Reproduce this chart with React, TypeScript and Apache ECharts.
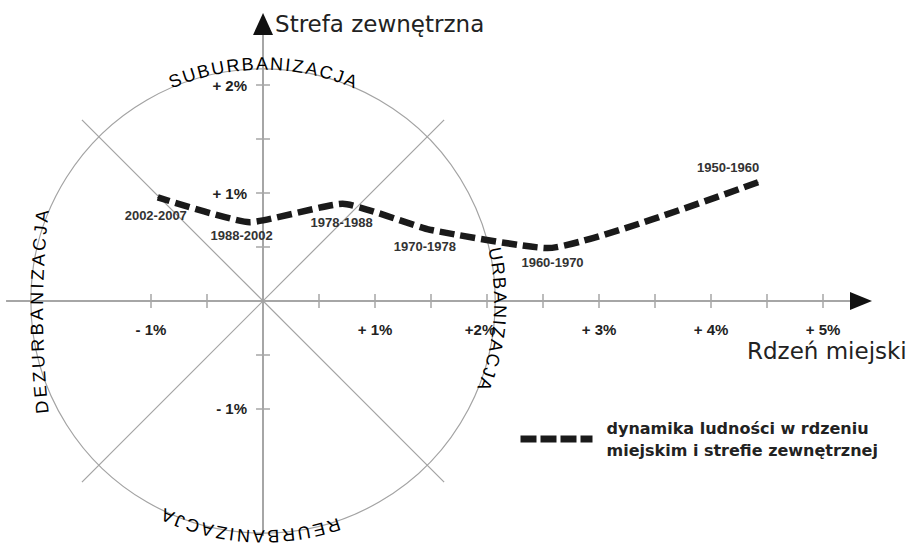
import React, { useEffect, useRef } from "react";
import * as echarts from "echarts";

// ---- data ----
const PERIODS = ["1950-1960", "1960-1970", "1970-1978", "1978-1988", "1988-2002", "2002-2007"];
const CORE_CHANGE = [4.42, 2.54, 1.49, 0.71, -0.12, -0.94]; // x: Rdzeń miejski (%)
const OUTER_CHANGE = [1.1, 0.49, 0.66, 0.9, 0.73, 0.96]; // y: Strefa zewnętrzna (%)

const X_TICK_VALUES = [-1, 1, 2, 3, 4, 5];
const X_TICK_LABELS = ["- 1%", "+ 1%", "+2%", "+ 3%", "+ 4%", "+ 5%"];
const X_TICK_MARKS = [-1, -0.5, 0.5, 1, 1.5, 2, 2.5, 3, 3.5, 4, 4.5, 5];
const Y_TICK_VALUES = [-1, 1, 2];
const Y_TICK_LABELS = ["- 1%", "+ 1%", "+ 2%"];
const Y_TICK_MARKS = [-1, -0.5, 0.5, 1, 1.5, 2];

const X_AXIS_NAME = "Rdzeń miejski";
const Y_AXIS_NAME = "Strefa zewnętrzna";
const SERIES_NAME = "dynamika ludności w rdzeniu miejskim i strefie zewnętrznej";
const ZONE_NAMES = ["SUBURBANIZACJA", "URBANIZACJA", "REURBANIZACJA", "DEZURBANIZACJA"];

// ---- layout / style ----
const W = 910;
const H = 549;
const GRID = { left: 7, right: 49, top: 24, bottom: 14 };
const X_MIN = -2.286;
const X_MAX = 5.339;
const Y_MIN = -2.167;
const Y_MAX = 2.565;
const CIRCLE_R = 2.15; // in y-axis units
const SHIFTED_X_LABEL = 2; // this tick label sits a little left of its tick
const LABEL_POS: any[] = [
  { position: "top", offset: [-30, -3] },
  { position: "bottom", offset: [5, 2] },
  { position: "bottom", offset: [-5, 5] },
  { position: "bottom", offset: [-1, 7] },
  { position: "bottom", offset: [-8, 1] },
  { position: "bottom", offset: [-2, 6] },
];
const AXIS_COLOR = "#a6a6a6";
const INK = "#1a1a1a";
const SANS = "Liberation Sans";
const WIDE = "DejaVu Sans";

function measure(ch: string, font: string) {
  const c = document.createElement("canvas").getContext("2d")!;
  c.font = font;
  return c.measureText(ch).width;
}

function arcLetters(
  text: string,
  cx: number,
  cy: number,
  r: number,
  centerDeg: number,
  fontSize: number,
  spacing: number
) {
  const font = `${fontSize}px "${SANS}"`;
  const chars = [...text];
  const widths = chars.map((ch) => measure(ch, font));
  const total = widths.reduce((a, b) => a + b, 0) + spacing * (chars.length - 1);
  let s = -total / 2;
  const out: any[] = [];
  chars.forEach((ch, i) => {
    const mid = s + widths[i] / 2;
    const th = (centerDeg * Math.PI) / 180 + mid / r;
    out.push({
      type: "text",
      x: cx + r * Math.cos(th),
      y: cy + r * Math.sin(th),
      rotation: -(th + Math.PI / 2),
      silent: true,
      z: 5,
      style: {
        text: ch,
        fontSize,
        fontFamily: SANS,
        fill: "#000",
        align: "center",
        verticalAlign: "middle",
        lineHeight: fontSize,
      },
    });
    s += widths[i] + spacing;
  });
  return out;
}

// pixel distances from the grid edges to the zero lines (axes sit on zero via offset)
const GW = W - GRID.left - GRID.right;
const GH = H - GRID.top - GRID.bottom;
const ZERO_FROM_LEFT = ((0 - X_MIN) / (X_MAX - X_MIN)) * GW;
const ZERO_FROM_TOP = ((Y_MAX - 0) / (Y_MAX - Y_MIN)) * GH;

const axisCommon = (min: number, max: number, marks: number[], offset: number) => ({
  type: "value",
  min,
  max,
  offset,
  axisLine: { onZero: false, lineStyle: { color: AXIS_COLOR, width: 2 } },
  axisTick: { show: true, customValues: marks, length: 7, lineStyle: { color: AXIS_COLOR, width: 1.5 } },
  splitLine: { show: false },
});

export default function App() {
  const ref = useRef<HTMLDivElement>(null);
  useEffect(() => {
    if (!ref.current) return;
    const chart = echarts.init(ref.current, undefined, { renderer: "svg" });
    const labelStyle = {
      fontSize: 15,
      fontWeight: "bold",
      fontFamily: SANS,
      color: "#222",
      lineHeight: 15,
    };
    const xLabel = (v: number) => {
      const i = X_TICK_VALUES.indexOf(v);
      return i >= 0 ? X_TICK_LABELS[i] : "";
    };
    chart.setOption({
      animation: false,
      grid: { ...GRID, containLabel: false, outerBoundsMode: "none" },
      xAxis: [
        {
          ...axisCommon(X_MIN, X_MAX, X_TICK_MARKS, -(GH - ZERO_FROM_TOP)),
          position: "bottom",
          axisLabel: {
            ...labelStyle,
            customValues: X_TICK_VALUES.filter((v) => v !== SHIFTED_X_LABEL),
            margin: 21,
            formatter: xLabel,
          },
        },
        {
          ...axisCommon(X_MIN, X_MAX, X_TICK_MARKS, -ZERO_FROM_TOP),
          position: "top",
          axisLabel: { show: false },
        },
        {
          type: "value",
          min: X_MIN,
          max: X_MAX,
          position: "bottom",
          offset: -(GH - ZERO_FROM_TOP),
          axisLine: { show: false, onZero: false },
          axisTick: { show: false },
          splitLine: { show: false },
          axisLabel: {
            ...labelStyle,
            customValues: [SHIFTED_X_LABEL],
            margin: 21,
            padding: [0, 14, 0, 0],
            formatter: xLabel,
          },
        },
      ],
      yAxis: [
        {
          ...axisCommon(Y_MIN, Y_MAX, Y_TICK_MARKS, -ZERO_FROM_LEFT),
          position: "left",
          axisLabel: {
            ...labelStyle,
            customValues: Y_TICK_VALUES,
            margin: 16,
            formatter: (v: number) => {
              const i = Y_TICK_VALUES.indexOf(v);
              return i >= 0 ? Y_TICK_LABELS[i] : "";
            },
          },
        },
        {
          ...axisCommon(Y_MIN, Y_MAX, Y_TICK_MARKS, -(GW - ZERO_FROM_LEFT)),
          position: "right",
          axisLabel: { show: false },
        },
      ],
      legend: {
        data: [SERIES_NAME],
        left: 517,
        top: 417,
        padding: 0,
        itemWidth: 72,
        itemHeight: 14,
        selectedMode: false,
        formatter: (n: string) => n.replace(" miejskim", "\nmiejskim"),
        lineStyle: { width: 7, type: [16, 4], color: INK },
        itemStyle: { opacity: 0 },
        textStyle: {
          fontFamily: WIDE,
          fontWeight: "bold",
          fontSize: 16,
          color: "#222",
          lineHeight: 22,
          padding: [0, 0, 0, 9],
        },
      },
      series: [
        {
          type: "line",
          name: SERIES_NAME,
          xAxisIndex: 0,
          yAxisIndex: 0,
          symbol: "circle",
          symbolSize: 1,
          showSymbol: true,
          itemStyle: { color: INK },
          smooth: 0.15,
          z: 3,
          lineStyle: { color: INK, width: 6.5, type: [15, 6] },
          data: CORE_CHANGE.map((x, i) => ({
            value: [x, OUTER_CHANGE[i]],
            label: { ...LABEL_POS[i] },
          })),
          label: {
            show: true,
            formatter: (p: any) => PERIODS[p.dataIndex],
            fontSize: 13,
            fontWeight: "bold",
            fontFamily: SANS,
            color: "#333",
          },
        },
      ],
    });

    const [cx, cy] = chart.convertToPixel({ gridIndex: 0 }, [0, 0]) as number[];
    const top = (chart.convertToPixel({ gridIndex: 0 }, [0, CIRCLE_R]) as number[])[1];
    const R = cy - top;
    const D = R * 0.78;
    const [xEnd] = chart.convertToPixel({ gridIndex: 0 }, [X_MAX, 0]) as number[];
    const yEnd = (chart.convertToPixel({ gridIndex: 0 }, [0, Y_MAX]) as number[])[1];
    const lineStyle = { stroke: "#a3a3a3", lineWidth: 1.2, fill: "none" };

    const graphic: any[] = [
      { type: "circle", silent: true, z: 1, shape: { cx, cy, r: R }, style: lineStyle },
      { type: "line", silent: true, z: 1, shape: { x1: cx - D, y1: cy - D, x2: cx + D, y2: cy + D }, style: lineStyle },
      { type: "line", silent: true, z: 1, shape: { x1: cx - D, y1: cy + D, x2: cx + D, y2: cy - D }, style: lineStyle },
      {
        type: "polygon",
        silent: true,
        z: 6,
        shape: { points: [[xEnd + 11, cy], [xEnd - 11, cy - 9], [xEnd - 11, cy + 9]] },
        style: { fill: "#111" },
      },
      {
        type: "polygon",
        silent: true,
        z: 6,
        shape: { points: [[cx, yEnd - 11], [cx - 10, yEnd + 11], [cx + 10, yEnd + 11]] },
        style: { fill: "#111" },
      },
      {
        type: "text",
        x: cx + 12,
        y: yEnd - 0.5,
        silent: true,
        style: {
          text: Y_AXIS_NAME,
          fontFamily: WIDE,
          fontSize: 23,
          lineHeight: 20,
          fill: "#222",
          align: "left",
          verticalAlign: "middle",
        },
      },
      {
        type: "text",
        x: xEnd - 114,
        y: cy + 50,
        silent: true,
        style: {
          text: X_AXIS_NAME,
          fontFamily: WIDE,
          fontSize: 23,
          lineHeight: 18,
          fill: "#222",
          align: "left",
          verticalAlign: "middle",
        },
      },
      ...arcLetters(ZONE_NAMES[0], cx, cy, R + 5, -90, 18, 2.3),
      ...arcLetters(ZONE_NAMES[1], cx, cy, R + 5, 4.5, 18, 2.0),
      ...arcLetters(ZONE_NAMES[2], cx, cy, R + 3, 93.2, 18, 2.7),
      ...arcLetters(ZONE_NAMES[3], cx - 226 + 900, cy + 11, 900, 180, 18, 3.3),
    ];
    chart.setOption({ graphic });

    return () => chart.dispose();
  }, []);
  return (
    <div
      ref={ref}
      style={{ position: "fixed", left: 0, top: 0, width: W, height: H, background: "#fff" }}
    />
  );
}
